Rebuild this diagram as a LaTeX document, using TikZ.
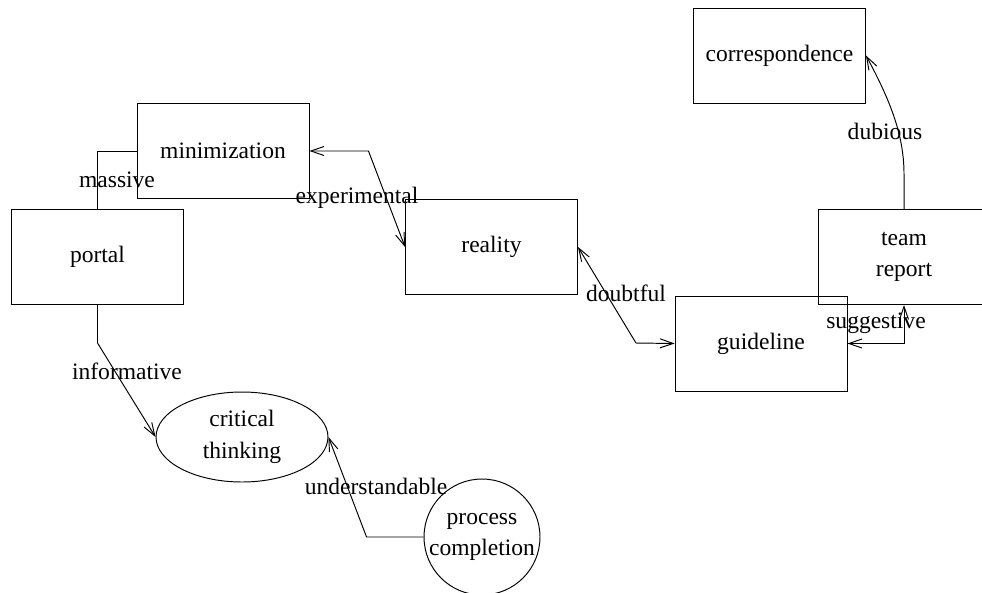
\documentclass[tikz,border=0pt]{standalone}
\usepackage{fontspec}
\setmainfont{Liberation Serif}
\usepackage{tikz}
\usetikzlibrary{arrows.meta,shapes.geometric}

\begin{document}
\begin{tikzpicture}[x=0.02cm,y=-0.02cm,line width=0.55pt,
    >={Straight Barb[length=0.26cm,width=0.18cm]},
    every node/.style={font=\fontsize{13.4}{18}\selectfont,align=center},
    box/.style={draw,minimum width=3.44cm,minimum height=1.9cm},
    oval/.style={draw,ellipse,minimum width=3.44cm,minimum height=1.8cm,inner sep=0pt},
    disc/.style={draw,circle,minimum size=2.32cm,inner sep=0pt}]
  \useasboundingbox (0,0) rectangle (982,592);
  \node[box] (minim) at (223,151) {minimization};
  \node[box] (portal) at (97.5,257) {portal};
  \node[box] (reality) at (491.5,247) {reality};
  \node[box] (guide) at (761,343.5) {guideline};
  \node[box] (team) at (904,257) {team\\report};
  \node[box] (corr) at (779.5,55.5) {correspondence};
  \node[oval] (crit) at (242,437) {critical\\thinking};
  \node[disc] (proc) at (482,537) {process\\completion};
  % connectors
  \draw (portal.north) |- (minim.west);
  \draw[<->] (minim.east) -- ++(59,0) -- (reality.west);
  \draw[<->] (reality.east) -- ++(58,96) -- (guide.west);
  \draw[<->] (guide.east) -| (team.south);
  \draw[->] (team.north) -- ++(0,-35) .. controls (904,135) and (890,100) .. (corr.east);
  \draw[->] (portal.south) -- ++(0,38) -- (crit.west);
  \draw[->] (proc.west) -- ++(-57,0) -- (crit.east);
  % labels
  \node (lmassive) at (117,180) {massive};
  \node (lexper) at (357,198) {experimental};
  \node (ldoubt) at (626,293) {doubtful};
  \node (lsugg) at (876,323) {suggestive};
  \node (ldub) at (885,131) {dubious};
  \node (linform) at (127,371) {informative};
  \node (lunder) at (376,486) {understandable};
\end{tikzpicture}
\end{document}
